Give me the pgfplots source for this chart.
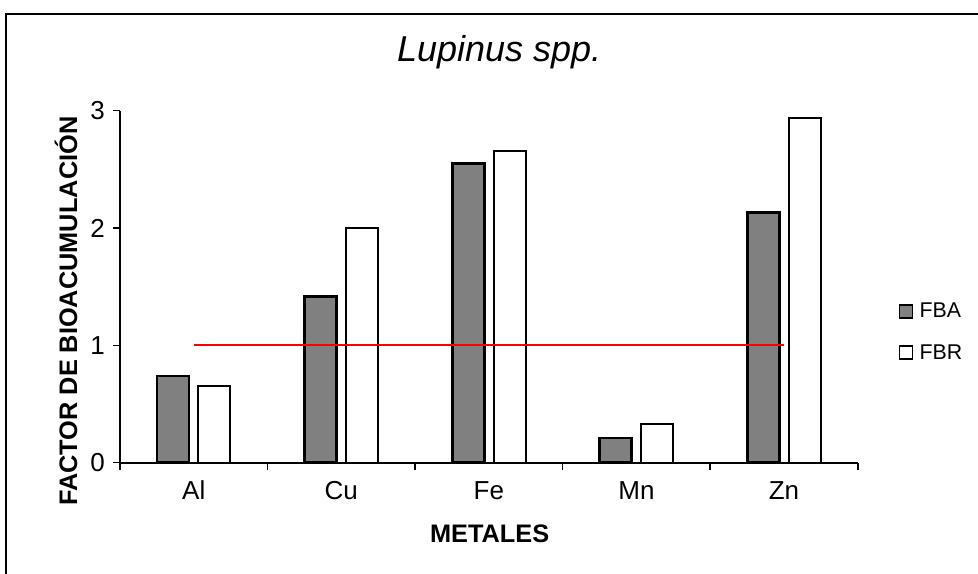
\documentclass[border=0pt]{standalone}
\usepackage{pgfplots}
\pgfplotsset{compat=1.18}
\usepackage{fontspec}
\setmainfont{Liberation Sans}
\definecolor{barfill}{RGB}{128,128,128}

\begin{document}
\begin{tikzpicture}[x=1pt,y=1pt]
\useasboundingbox (0,0) rectangle (733.5,430.5);
% outer chart frame (cut at right and bottom in the reference)
\draw[line width=1.2pt] (4.5,-20) -- (4.5,420) -- (760,420);
\begin{axis}[
  at={(90pt,83.5pt)}, anchor=south west,
  scale only axis, width=553.3pt, height=264pt,
  xmin=-0.5, xmax=4.5, ymin=0, ymax=3,
  axis lines=left, axis line style={-, line width=1.5pt},
  ytick={0,1,2,3},
  xtick={0,...,4}, xticklabels={Al,Cu,Fe,Mn,Zn},
  minor xtick={-0.5,0.5,...,4.5},
  x tick style={draw=none},
  minor x tick style={draw=black, line width=1.2pt},
  y tick style={black, line width=1.2pt},
  minor tick length=5.25pt, major tick length=5.25pt,
  tick align=outside,
  /pgf/number format/assume math mode=true,
  tick label style={font=\fontsize{19.5}{22}\selectfont},
  xticklabel style={yshift=-11.5pt, text height=0.75em, text depth=0.2em},
  yticklabel style={xshift=-2.5pt},
  title={Lupinus spp.},
  title style={at={(axis description cs:0.514,1.116)}, anchor=base,
    font=\fontsize{27}{30}\selectfont\itshape},
  xlabel={METALES},
  xlabel style={at={(axis description cs:0.501,-0.228)}, anchor=base,
    font=\fontsize{19}{22}\selectfont\bfseries},
  ylabel={FACTOR DE BIOACUMULACIÓN},
  ylabel style={at={(axis description cs:-0.058,0.43)}, anchor=base,
    font=\fontsize{19}{22}\selectfont\bfseries},
  legend style={draw=none, fill=none, at={(axis description cs:1.050,0.371)},
    anchor=west, font=\fontsize{16}{18}\selectfont, row sep=16.5pt,
    nodes={inner ysep=1pt, inner xsep=4.5pt}},
  legend cell align=left,
  legend image code/.code={\draw[#1, line width=1.2pt] (0pt,-4.9pt) rectangle (9.75pt,4.9pt);},
]
\addplot[ybar, bar width=24pt, bar shift=-15.5pt, fill=barfill, draw=black, line width=2pt]
  coordinates {(0,0.74) (1,1.415) (2,2.55) (3,0.21) (4,2.13)};
\addlegendentry{FBA}
\addplot[ybar, bar width=24pt, bar shift=15.5pt, fill=white, draw=black, line width=1.5pt]
  coordinates {(0,0.65) (1,2.0) (2,2.655) (3,0.33) (4,2.94)};
\addlegendentry{FBR}
\addplot[red, line width=1.5pt, sharp plot, forget plot]
  coordinates {(0,1) (4,1)};
\end{axis}
\end{tikzpicture}
\end{document}
